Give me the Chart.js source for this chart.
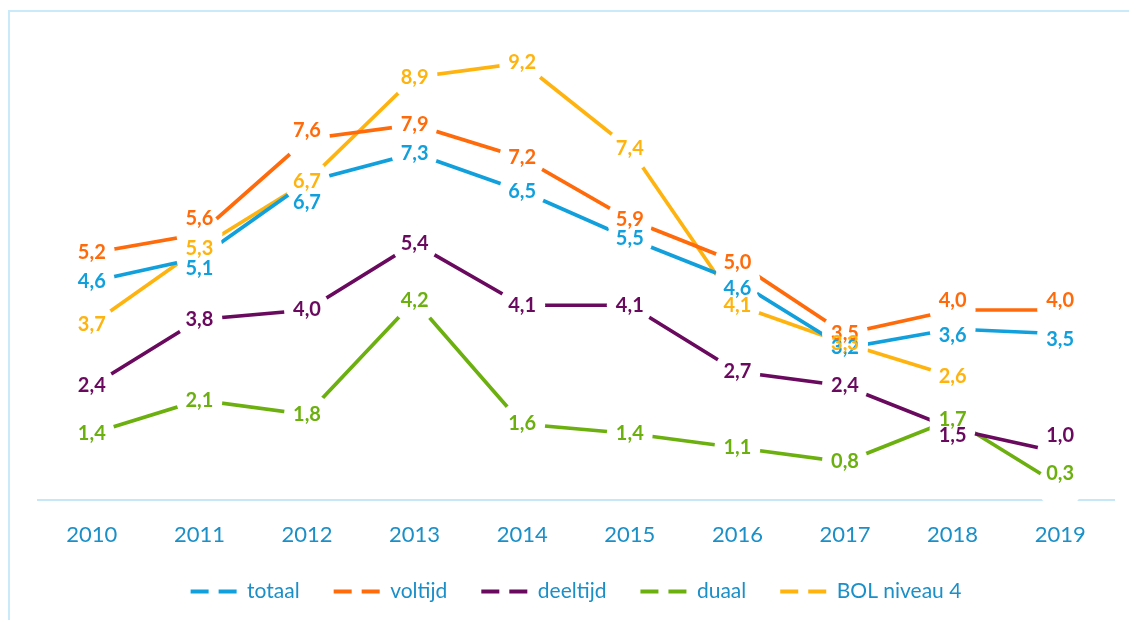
<!DOCTYPE html>
<html>
<head>
<meta charset="utf-8">
<script src="https://cdn.jsdelivr.net/npm/chart.js@4"></script>
<style>
  html, body { margin: 0; padding: 0; background: #fff; }
  #wrap { position: relative; width: 1129px; height: 620px; overflow: hidden; }
  #kader { position: absolute; left: 8px; top: 10px; right: -5px; bottom: -5px;
           border-left: 2px solid #c9ebf9; border-top: 2px solid #c9ebf9; }
  canvas { position: absolute; left: 0; top: 0; }
</style>
</head>
<body>
<div id="wrap">
  <div id="kader"></div>
  <canvas id="grafiek" width="1129" height="620"></canvas>
</div>
<script>
const jaren = ['2010', '2011', '2012', '2013', '2014', '2015', '2016', '2017', '2018', '2019'];
const totaal   = [4.6, 5.1, 6.7, 7.3, 6.5, 5.5, 4.6, 3.2, 3.6, 3.5];
const voltijd  = [5.2, 5.6, 7.6, 7.9, 7.2, 5.9, 5.0, 3.5, 4.0, 4.0];
const deeltijd = [2.4, 3.8, 4.0, 5.4, 4.1, 4.1, 2.7, 2.4, 1.5, 1.0];
const duaal    = [1.4, 2.1, 1.8, 4.2, 1.6, 1.4, 1.1, 0.8, 1.7, 0.3];
const bol4     = [3.7, 5.3, 6.7, 8.9, 9.2, 7.4, 4.1, 3.3, 2.6, null];

const kleuren = {
  totaal: '#12a0dc',
  voltijd: '#ff6a0a',
  deeltijd: '#6a0a5e',
  duaal: '#6cb010',
  bol4: '#ffb30f'
};
const tekstBlauw = '#1a8fc8';

// verticale verschuiving van sommige labels (zoals in het origineel)
const labelVerschuiving = {
  totaal: { 1: 11, 2: 21, 6: 7, 8: 7, 9: 6 },
  voltijd: { 1: -15, 2: -8, 8: -9, 9: -9 },
  deeltijd: { 8: 7, 9: -17 },
  duaal: { 9: -12 }
};

function reeks(label, sleutel, data) {
  return {
    label: label,
    sleutel: sleutel,
    data: data,
    borderColor: kleuren[sleutel],
    backgroundColor: kleuren[sleutel],
    borderWidth: 3.7,
    pointRadius: 0,
    pointHoverRadius: 0,
    tension: 0,
    fill: false,
    spanGaps: false
  };
}

const waardeLabels = {
  id: 'waardeLabels',
  afterDatasetsDraw(chart) {
    const ctx = chart.ctx;
    ctx.save();
    // lijnen onderbreken rond de punten
    ctx.fillStyle = '#fff';
    chart.data.datasets.forEach((ds, i) => {
      chart.getDatasetMeta(i).data.forEach((pt, j) => {
        if (ds.data[j] == null) return;
        ctx.beginPath();
        ctx.arc(pt.x, pt.y, 23, 0, Math.PI * 2);
        ctx.fill();
      });
    });
    ctx.font = 'bold 20px Lato';
    ctx.textAlign = 'center';
    ctx.textBaseline = 'middle';
    chart.data.datasets.forEach((ds, i) => {
      const extra = labelVerschuiving[ds.sleutel] || {};
      chart.getDatasetMeta(i).data.forEach((pt, j) => {
        const v = ds.data[j];
        if (v == null) return;
        ctx.fillStyle = ds.borderColor;
        ctx.fillText(v.toFixed(1).replace('.', ','), pt.x, pt.y + (extra[j] || 0));
      });
    });
    ctx.restore();
  }
};

new Chart(document.getElementById('grafiek'), {
  type: 'line',
  data: {
    labels: jaren,
    datasets: [
      reeks('totaal', 'totaal', totaal),
      reeks('voltijd', 'voltijd', voltijd),
      reeks('deeltijd', 'deeltijd', deeltijd),
      reeks('duaal', 'duaal', duaal),
      reeks('BOL niveau 4', 'bol4', bol4)
    ]
  },
  options: {
    responsive: false,
    animation: false,
    layout: { padding: { left: 38, right: 15, top: 25, bottom: 8 } },
    scales: {
      x: {
        offset: true,
        grid: { display: false, drawTicks: false },
        border: { display: true, color: '#c5e7f6', width: 2 },
        ticks: { color: tekstBlauw, font: { family: 'Lato', size: 22 }, padding: 22 },
        afterFit(scale) { scale.height = 47; }
      },
      y: { display: false, min: 0, max: 10 }
    },
    plugins: {
      tooltip: { enabled: false },
      legend: {
        position: 'bottom',
        labels: {
          color: tekstBlauw,
          font: { family: 'Lato', size: 21 },
          padding: 34,
          usePointStyle: true,
          pointStyle: 'line',
          pointStyleWidth: 46,
          generateLabels(chart) {
            return Chart.defaults.plugins.legend.labels.generateLabels(chart).map(l =>
              Object.assign(l, { pointStyle: 'line', lineDash: [18, 10], lineWidth: 4 }));
          }
        }
      }
    }
  },
  plugins: [waardeLabels]
});
</script>
</body>
</html>
